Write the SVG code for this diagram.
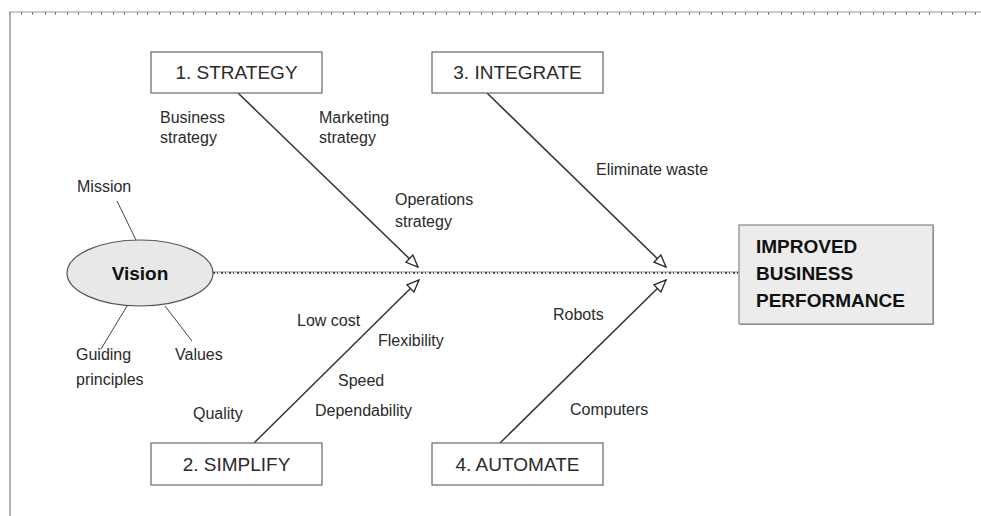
<svg xmlns="http://www.w3.org/2000/svg" width="981" height="516" viewBox="0 0 981 516">
  <style>
    .lbl { font-family: "Liberation Sans", Arial, sans-serif; font-size: 16px; fill: #2a2a2a; }
    .box { fill: #ffffff; stroke: #666; stroke-width: 1.2; }
    .boxtxt { font-family: "Liberation Sans", Arial, sans-serif; font-size: 19px; fill: #2a2a2a; text-anchor: middle; }
    .bold { font-family: "Liberation Sans", Arial, sans-serif; font-size: 19px; font-weight: bold; fill: #111; }
    .bone { stroke: #333; stroke-width: 1.5; fill: none; }
    .thin { stroke: #444; stroke-width: 1; fill: none; }
  </style>
  <defs>
    <marker id="arrow" markerUnits="userSpaceOnUse" markerWidth="14" markerHeight="12" refX="13" refY="6" orient="auto">
      <path d="M1,1 L13,6 L1,11 Z" fill="#fff" stroke="#222" stroke-width="1.3"/>
    </marker>
  </defs>

  <!-- frame -->
  <g id="frame">
    <line x1="9" y1="12" x2="981" y2="12" stroke="#999" stroke-width="1"/>
    <line x1="9" y1="13.5" x2="981" y2="13.5" stroke="#555" stroke-width="2" stroke-dasharray="1 11 1 10 1 12 1 9"/>
    <line x1="10" y1="12" x2="10" y2="516" stroke="#999" stroke-width="1.5"/>
  </g>

  <!-- connectors -->
  <g id="connectors">
    <line x1="213" y1="272" x2="739" y2="272" stroke="#888" stroke-width="1"/>
    <line x1="213" y1="273" x2="739" y2="273" stroke="#222" stroke-width="1.5" stroke-dasharray="2 2 1 3"/>
    <line class="bone" x1="238" y1="93" x2="418" y2="267" marker-end="url(#arrow)"/>
    <line class="bone" x1="487" y1="93" x2="666" y2="267" marker-end="url(#arrow)"/>
    <line class="bone" x1="254" y1="443" x2="419" y2="280" marker-end="url(#arrow)"/>
    <line class="bone" x1="500" y1="443" x2="666" y2="280" marker-end="url(#arrow)"/>
    <line class="thin" x1="117" y1="201" x2="136" y2="240"/>
    <line class="thin" x1="127" y1="306" x2="101" y2="349"/>
    <line class="thin" x1="165" y1="306" x2="192" y2="341"/>
  </g>

  <g id="vision">
    <ellipse cx="140" cy="273" rx="73" ry="33" fill="#e8e8e8" stroke="#555" stroke-width="1.2"/>
    <text x="140" y="280" class="bold" text-anchor="middle">Vision</text>
  </g>

  <g id="strategy">
    <rect class="box" x="151" y="52" width="171" height="41"/>
    <text class="boxtxt" x="236.5" y="79">1. STRATEGY</text>
  </g>
  <g id="integrate">
    <rect class="box" x="432" y="52" width="171" height="41"/>
    <text class="boxtxt" x="517.5" y="79">3. INTEGRATE</text>
  </g>
  <g id="simplify">
    <rect class="box" x="151" y="443" width="171" height="42"/>
    <text class="boxtxt" x="236.5" y="471">2. SIMPLIFY</text>
  </g>
  <g id="automate">
    <rect class="box" x="432" y="443" width="171" height="42"/>
    <text class="boxtxt" x="517.5" y="471">4. AUTOMATE</text>
  </g>

  <g id="improve">
    <rect x="740" y="226" width="194" height="99" fill="#999"/>
    <rect x="739" y="225" width="194" height="99" fill="#ececec" stroke="#888" stroke-width="1.2"/>
    <text class="bold" x="756" y="253">IMPROVED</text>
    <text class="bold" x="756" y="280">BUSINESS</text>
    <text class="bold" x="756" y="307">PERFORMANCE</text>
  </g>

  <g id="labels">
    <text class="lbl" x="160" y="123">Business</text>
    <text class="lbl" x="160" y="143">strategy</text>
    <text class="lbl" x="319" y="123">Marketing</text>
    <text class="lbl" x="319" y="143">strategy</text>
    <text class="lbl" x="77" y="192">Mission</text>
    <text class="lbl" x="395" y="205">Operations</text>
    <text class="lbl" x="395" y="227">strategy</text>
    <text class="lbl" x="596" y="175">Eliminate waste</text>
    <text class="lbl" x="297" y="326">Low cost</text>
    <text class="lbl" x="378" y="346">Flexibility</text>
    <text class="lbl" x="76" y="360">Guiding</text>
    <text class="lbl" x="76" y="385">principles</text>
    <text class="lbl" x="175" y="360">Values</text>
    <text class="lbl" x="338" y="386">Speed</text>
    <text class="lbl" x="315" y="416">Dependability</text>
    <text class="lbl" x="193" y="419">Quality</text>
    <text class="lbl" x="553" y="320">Robots</text>
    <text class="lbl" x="570" y="415">Computers</text>
  </g>
</svg>
